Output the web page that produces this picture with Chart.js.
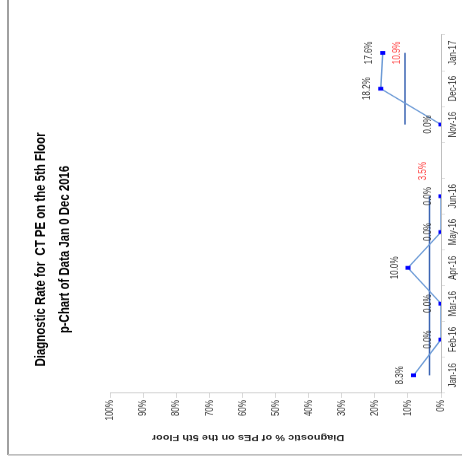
<!DOCTYPE html>
<html>
<head>
<meta charset="utf-8">
<script src="https://cdn.jsdelivr.net/npm/chart.js@4.4.1/dist/chart.umd.min.js"></script>
<style>
  html, body { margin: 0; padding: 0; background: #fff; overflow: hidden; }
  /* o gráfico original está girado 90° (anti-horário) e com o texto comprimido */
  #wrap { position: absolute; left: 0; top: 0; width: 610px; height: 462px;
          transform-origin: 0 0;
          transform: translate(0, 464px) rotate(-90deg) scaleX(0.7607); }
</style>
</head>
<body>
<div id="wrap"><canvas id="grafico" width="610" height="462"></canvas></div>
<script>
// Dados do gráfico
const meses = ["Jan-16", "Feb-16", "Mar-16", "Apr-16", "May-16", "Jun-16", "", "Nov-16", "Dec-16", "Jan-17"];
const taxas = [8.3, 0, 0, 10.0, 0, 0, null, 0, 18.2, 17.6];
const media1 = [3.5, 3.5, 3.5, 3.5, 3.5, 3.5, null, null, null, null];
const media2 = [null, null, null, null, null, null, null, 10.9, 10.9, 10.9];
const ticksY = [0, 10, 20, 30, 40, 50, 60, 70, 80, 90, 100];
const titulo = ["Diagnostic Rate for  CT PE on the 5th Floor", "p-Chart of Data Jan 0 Dec 2016"];
const tituloEixoY = "Diagnostic % of PEs on the 5th Floor";

const fonte = '"Liberation Sans", Arial, sans-serif';

// Moldura, título do eixo e rótulos
const extras = {
    id: "extras",
    beforeDraw(chart) {
        const ctx = chart.ctx;
        ctx.save();
        ctx.lineWidth = 1.5;
        ctx.strokeStyle = "#808080";
        ctx.beginPath();
        ctx.moveTo(12, 8);
        ctx.lineTo(chart.width, 8);
        ctx.stroke();
        ctx.lineWidth = 2;
        ctx.strokeStyle = "#bfbfbf";
        ctx.beginPath();
        ctx.moveTo(12, 8);
        ctx.lineTo(12, chart.height);
        ctx.stroke();
        ctx.restore();
    },
    afterDatasetsDraw(chart) {
        const ctx = chart.ctx;
        const x = chart.scales.x;
        const y = chart.scales.y;
        ctx.save();

        // título do eixo Y
        ctx.translate(35, 248);
        ctx.rotate(-Math.PI / 2);
        ctx.font = "bold 11px " + fonte;
        ctx.fillStyle = "#262626";
        ctx.textAlign = "center";
        ctx.textBaseline = "middle";
        ctx.fillText(tituloEixoY, 0, 0);
        ctx.setTransform(1, 0, 0, 1, 0, 0);

        // rótulos dos pontos
        ctx.font = "10.5px " + fonte;
        ctx.fillStyle = "#333333";
        ctx.textBaseline = "bottom";
        ctx.textAlign = "center";
        chart.getDatasetMeta(0).data.forEach((pt, i) => {
            if (taxas[i] === null) return;
            ctx.fillText(taxas[i].toFixed(1) + "%", pt.x, pt.y - 8);
        });

        // rótulos das médias (em vermelho)
        ctx.fillStyle = "#ff3b3b";
        ctx.textAlign = "left";
        ctx.fillText(media1[5].toFixed(1) + "%", x.getPixelForValue(5) + 21, y.getPixelForValue(media1[5]) - 1);
        ctx.textAlign = "center";
        ctx.fillText(media2[9].toFixed(1) + "%", x.getPixelForValue(9), y.getPixelForValue(media2[9]) - 3);
        ctx.restore();
    }
};

const grafico = new Chart(document.getElementById("grafico"), {
    type: "line",
    data: {
        labels: meses,
        datasets: [
            {
                data: taxas,
                borderColor: "#6d9bd6",
                borderWidth: 1.5,
                pointStyle: "rect",
                pointRadius: 3.5,
                pointBackgroundColor: "#0000ff",
                pointBorderColor: "#0000ff",
                pointBorderWidth: 0,
                spanGaps: false,
                tension: 0
            },
            {
                data: media1,
                borderColor: "#3b64b3",
                borderWidth: 1.5,
                pointRadius: 0,
                spanGaps: false
            },
            {
                data: media2,
                borderColor: "#3b64b3",
                borderWidth: 1.5,
                pointRadius: 0,
                spanGaps: false
            }
        ]
    },
    options: {
        responsive: false,
        animation: false,
        devicePixelRatio: 1,
        layout: { padding: { top: 0, right: 46, bottom: 0, left: 0 } },
        plugins: {
            legend: { display: false },
            tooltip: { enabled: false },
            title: {
                display: true,
                text: titulo,
                color: "#000",
                font: { family: fonte, size: 15, weight: "bold", lineHeight: 1.65 },
                padding: { top: 28, bottom: 33 }
            }
        },
        scales: {
            x: {
                offset: true,
                afterFit: (s) => { s.height = 21; },
                grid: { offset: true, drawOnChartArea: false, drawTicks: true, tickLength: 4, color: "#d9d9d9" },
                border: { color: "#bfbfbf" },
                ticks: {
                    autoSkip: false, maxRotation: 0, padding: 2,
                    color: "#333333", font: { family: fonte, size: 10.5 }
                }
            },
            y: {
                min: 0,
                max: 100,
                afterFit: (s) => { s.width = 93; },
                afterBuildTicks: (s) => { s.ticks = ticksY.map(v => ({ value: v })); },
                grid: { drawOnChartArea: false, drawTicks: true, tickLength: 6, color: "#d9d9d9" },
                border: { color: "#bfbfbf" },
                ticks: {
                    padding: 3, color: "#333333",
                    font: { family: fonte, size: 10.5 },
                    callback: (v) => v + "%"
                }
            }
        }
    },
    plugins: [extras]
});
</script>
</body>
</html>
